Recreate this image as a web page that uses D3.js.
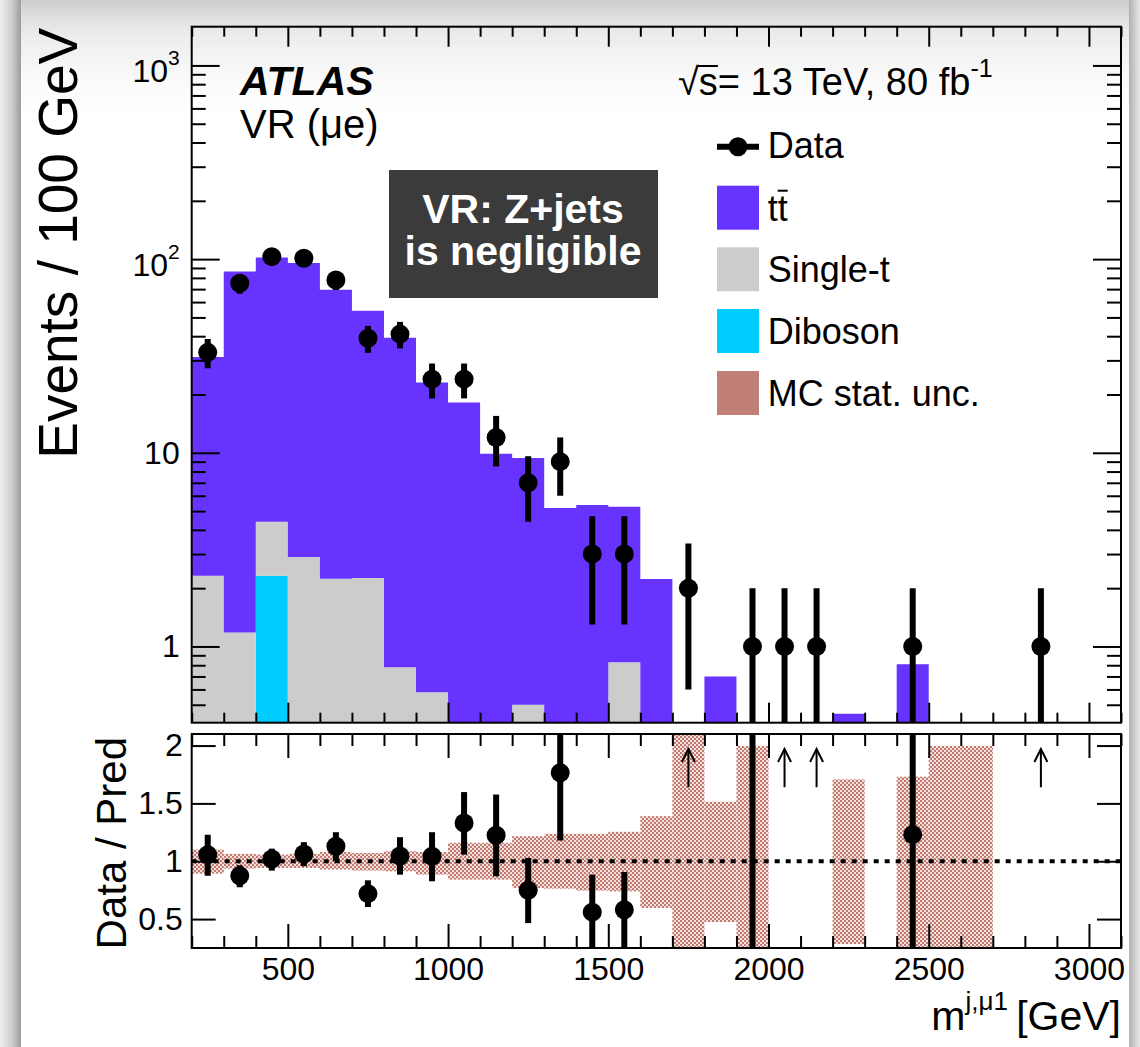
<!DOCTYPE html>
<html><head><meta charset="utf-8">
<script src="https://cdn.jsdelivr.net/npm/d3@7"></script>
<style>
body{margin:0;background:#fff}
svg{display:block}
text{font-family:"Liberation Sans",Arial,Helvetica,sans-serif}
</style>
</head><body>
<svg id="c" width="1140" height="1047"></svg>
<script>
// ---------------- data ----------------
const binLow = [200,300,400,500,600,700,800,900,1000,1100,1200,1300,1400,1500,1600,1700,1800,1900,2000,2100,2200,2300,2400,2500,2600,2700,2800,2900,3000];
const binWidth = 100;
const ttbar     = [28.9,85.2,97.6,92.5,67.3,51.8,38.5,22.5,18.2,9.88,8.89,5.18,5.37,4.43,2.23,0,0.70,0.30,0,0,0.45,0,0.81,0.15,0.15,0,0,0,0];
const singleTop = [2.32,1.18,2.08,2.90,2.24,2.26,0.78,0.58,0,0,0.50,0,0,0.83,0,0,0,0,0,0,0,0,0,0,0,0,0,0,0];
const diboson   = [0,0,2.32,0,0,0,0,0,0,0,0,0,0,0,0,0,0,0,0,0,0,0,0,0,0,0,0,0,0];
const dataCounts = [33,75,103,101,78,39,41,24,24,12,7,9,3,3,0,2,0,1,1,1,0,0,1,0,0,0,1,0,0];
const dataErr    = [5.7,8.7,10.1,10.0,8.8,6.2,6.4,4.9,4.9,3.5,2.6,3.0,1.7,1.7,0,1.4,0,1,1,1,0,0,1,0,0,0,1,0,0];
const ratio   = [1.057,0.875,1.02,1.063,1.13,0.72,1.046,1.043,1.33,1.225,0.75,1.765,0.56,0.58,null,null,null,4.0,null,null,null,null,1.23,null,null,null,null,null,null];
const ratioLo = [0.875,0.775,0.919,0.957,1.0,0.604,0.884,0.827,1.057,0.87,0.465,1.179,0.2,0.2,null,null,null,0.1,null,null,null,null,0.1,null,null,null,null,null,null];
const ratioHi = [1.23,0.965,1.109,1.165,1.251,0.835,1.208,1.251,1.598,1.577,1.029,2.35,0.884,0.907,null,null,null,8.0,null,null,null,null,4.0,null,null,null,null,null,null];
const ratioArrowBins = [1700,2000,2100,2800];
const mcUncLo = [0.893,0.936,0.942,0.942,0.928,0.919,0.913,0.884,0.841,0.841,0.769,0.763,0.746,0.74,0.596,0.1,0.474,0.1,null,null,0.284,null,0.1,0.1,0.1,null,null,null,null];
const mcUncHi = [1.101,1.064,1.058,1.064,1.081,1.072,1.087,1.081,1.159,1.159,1.217,1.237,1.237,1.254,1.39,2.5,1.514,1.997,null,null,1.708,null,1.731,1.997,1.997,null,null,null,null];
const xMajorTicks = [500,1000,1500,2000,2500,3000];
const yMainTicks = [1,10,100,1000];
const yRatioTicks = [0.5,1,1.5,2];
const legendLabels = ["Data","tt","Single-t","Diboson","MC stat. unc."];

// ---------------- geometry ----------------
const W = 1140, H = 1047;
const L = 191.7, R = 1121, T1 = 26.7, B1 = 722.7, T2 = 734, B2 = 948;
const COL = {tt:"#6633ff", st:"#cccccc", db:"#00ccff", mc:"#c08078"};
const FONT = '"Liberation Sans",Arial,Helvetica,sans-serif';

const svg = d3.select("#c");
const n = binLow.length;
const edges = binLow.concat([binLow[n-1] + binWidth]);

const x = d3.scaleLinear().domain([edges[0], edges[n]]).range([L, R]);
const yTop = d3.scaleLog().domain([0.404, 1585]).range([B1, T1]).clamp(true);
const yR = d3.scaleLinear().domain([0.25, 2.1]).range([B2, T2]);
const ySafe = v => yTop(Math.max(v, 1e-4));

// ---------------- defs ----------------
const defs = svg.append("defs");
defs.append("clipPath").attr("id","clipTop").append("rect")
  .attr("x",L).attr("y",T1).attr("width",R-L).attr("height",B1-T1);
defs.append("clipPath").attr("id","clipRat").append("rect")
  .attr("x",L).attr("y",T2).attr("width",R-L).attr("height",B2-T2);
const pat = defs.append("pattern").attr("id","hatch").attr("patternUnits","userSpaceOnUse")
  .attr("width",4).attr("height",4);
pat.append("rect").attr("x",0).attr("y",0).attr("width",4).attr("height",4).attr("fill","#f2e0dd");
pat.append("rect").attr("x",0).attr("y",0).attr("width",2).attr("height",2).attr("fill","#c27a70");
pat.append("rect").attr("x",2).attr("y",2).attr("width",2).attr("height",2).attr("fill","#c27a70");
const gL = defs.append("linearGradient").attr("id","shL").attr("x1",0).attr("x2",1).attr("y1",0).attr("y2",0);
gL.append("stop").attr("offset",0).attr("stop-color","#eeeeee");
gL.append("stop").attr("offset",0.55).attr("stop-color","#cfcfcf");
gL.append("stop").attr("offset",1).attr("stop-color","#9c9c9c");
const gR = defs.append("linearGradient").attr("id","shR").attr("x1",0).attr("x2",1).attr("y1",0).attr("y2",0);
gR.append("stop").attr("offset",0).attr("stop-color","#b0b0b0");
gR.append("stop").attr("offset",1).attr("stop-color","#e8e8e8");
const gT = defs.append("linearGradient").attr("id","shT").attr("x1",0).attr("x2",0).attr("y1",0).attr("y2",1);
gT.append("stop").attr("offset",0).attr("stop-color","#c8c8c8").attr("stop-opacity",0.9);
gT.append("stop").attr("offset",0.25).attr("stop-color","#dddddd").attr("stop-opacity",0.6);
gT.append("stop").attr("offset",1).attr("stop-color","#ffffff").attr("stop-opacity",0);

// ---------------- background ----------------
svg.append("rect").attr("width",W).attr("height",H).attr("fill","#fff");
svg.append("rect").attr("x",21).attr("y",0).attr("width",1108).attr("height",130).attr("fill","url(#shT)");
svg.append("rect").attr("x",0).attr("y",0).attr("width",21).attr("height",H).attr("fill","url(#shL)");
svg.append("rect").attr("x",1129).attr("y",0).attr("width",11).attr("height",H).attr("fill","url(#shR)");

// ---------------- top panel: stack ----------------
const gTop = svg.append("g").attr("clip-path","url(#clipTop)");
const layers = [{v:diboson,c:COL.db},{v:singleTop,c:COL.st},{v:ttbar,c:COL.tt}];
let base = new Array(n).fill(0);
const area = d3.area().curve(d3.curveStepAfter)
  .x((d,i)=>x(edges[i])).y0(d=>ySafe(d.lo)).y1(d=>ySafe(d.hi));
layers.forEach(layer=>{
  const top = base.map((b,i)=>b+layer.v[i]);
  const pts = edges.map((e,i)=>{const k=Math.min(i,n-1);return {lo:base[k],hi:top[k]};});
  gTop.append("path").attr("d",area(pts)).attr("fill",layer.c).attr("stroke","none");
  base = top;
});

// data points
const pts = binLow.map((b,i)=>({c:b+binWidth/2, v:dataCounts[i], e:dataErr[i]})).filter(d=>d.v>0);
gTop.selectAll("line.err").data(pts).join("line")
  .attr("x1",d=>x(d.c)).attr("x2",d=>x(d.c))
  .attr("y1",d=>ySafe(d.v+d.e)).attr("y2",d=>ySafe(d.v-d.e))
  .attr("stroke","#000").attr("stroke-width",6);
gTop.selectAll("circle").data(pts).join("circle")
  .attr("cx",d=>x(d.c)).attr("cy",d=>yTop(d.v)).attr("r",9.5).attr("fill","#000");

// ---------------- axes helpers ----------------
function styleAxis(g, size){
  g.select(".domain").remove();
  g.selectAll(".tick line").attr("stroke","#000").attr("stroke-width",2);
  g.attr("font-family",FONT).attr("font-size",size||32);
  g.selectAll(".tick text").attr("fill","#000");
}
const xMinor = x.ticks(29).filter(t=>xMajorTicks.indexOf(t)<0);
const yMinor = yTop.ticks().filter(t=>yMainTicks.indexOf(t)<0);

// top panel axes
svg.append("g").attr("transform",`translate(0,${B1})`)
  .call(d3.axisBottom(x).tickValues(xMajorTicks).tickSizeInner(-20).tickSizeOuter(0).tickFormat(""))
  .call(styleAxis);
svg.append("g").attr("transform",`translate(0,${B1})`)
  .call(d3.axisBottom(x).tickValues(xMinor).tickSizeInner(-10).tickSizeOuter(0).tickFormat(""))
  .call(styleAxis);
svg.append("g").attr("transform",`translate(0,${T1})`)
  .call(d3.axisTop(x).tickValues(xMajorTicks).tickSizeInner(-20).tickSizeOuter(0).tickFormat(""))
  .call(styleAxis);
svg.append("g").attr("transform",`translate(0,${T1})`)
  .call(d3.axisTop(x).tickValues(xMinor).tickSizeInner(-10).tickSizeOuter(0).tickFormat(""))
  .call(styleAxis);
const yAx = svg.append("g").attr("transform",`translate(${L},0)`)
  .call(d3.axisLeft(yTop).tickValues(yMainTicks).tickSizeInner(-28).tickSizeOuter(0).tickPadding(12)
    .tickFormat(d=> d>=100 ? "10" : String(d)))
  .call(styleAxis);
yAx.selectAll(".tick text").each(function(d){
  if(d>=100){
    const t = d3.select(this).attr("dy","0.5em");
    t.append("tspan").attr("dy",-17).attr("font-size",21).text(Math.round(Math.log10(d)));
  }
});
svg.append("g").attr("transform",`translate(${L},0)`)
  .call(d3.axisLeft(yTop).tickValues(yMinor).tickSizeInner(-14).tickSizeOuter(0).tickFormat(""))
  .call(styleAxis);
svg.append("g").attr("transform",`translate(${R},0)`)
  .call(d3.axisRight(yTop).tickValues(yMainTicks).tickSizeInner(-28).tickSizeOuter(0).tickFormat(""))
  .call(styleAxis);
svg.append("g").attr("transform",`translate(${R},0)`)
  .call(d3.axisRight(yTop).tickValues(yMinor).tickSizeInner(-14).tickSizeOuter(0).tickFormat(""))
  .call(styleAxis);
svg.append("rect").attr("x",L).attr("y",T1).attr("width",R-L).attr("height",B1-T1)
  .attr("fill","none").attr("stroke","#000").attr("stroke-width",2);

// ---------------- ratio panel ----------------
const gRat = svg.append("g").attr("clip-path","url(#clipRat)");
const bands = binLow.map((b,i)=>({b, lo:mcUncLo[i], hi:mcUncHi[i]})).filter(d=>d.lo!==null);
gRat.selectAll("rect.band").data(bands).join("rect")
  .attr("x",d=>x(d.b)).attr("width",d=>x(d.b+binWidth)-x(d.b))
  .attr("y",d=>yR(d.hi)).attr("height",d=>yR(d.lo)-yR(d.hi))
  .attr("fill","url(#hatch)");
gRat.append("line").attr("x1",L).attr("x2",R).attr("y1",yR(1)).attr("y2",yR(1))
  .attr("stroke","#000").attr("stroke-width",4).attr("stroke-dasharray","5,6");
const rpts = binLow.map((b,i)=>({c:b+binWidth/2, r:ratio[i], lo:ratioLo[i], hi:ratioHi[i]})).filter(d=>d.r!==null);
gRat.selectAll("line.rerr").data(rpts).join("line")
  .attr("x1",d=>x(d.c)).attr("x2",d=>x(d.c))
  .attr("y1",d=>yR(d.hi)).attr("y2",d=>yR(d.lo))
  .attr("stroke","#000").attr("stroke-width",6);
gRat.selectAll("circle").data(rpts).join("circle")
  .attr("cx",d=>x(d.c)).attr("cy",d=>yR(d.r)).attr("r",9.5).attr("fill","#000");
// arrows for off-scale points
ratioArrowBins.forEach(b=>{
  const cx = x(b+binWidth/2), yTip = yR(1.97), yBot = yR(1.64);
  gRat.append("line").attr("x1",cx).attr("x2",cx).attr("y1",yBot).attr("y2",yTip)
    .attr("stroke","#000").attr("stroke-width",2);
  gRat.append("polyline").attr("points",`${cx-6.5},${yTip+13} ${cx},${yTip} ${cx+6.5},${yTip+13}`)
    .attr("fill","none").attr("stroke","#000").attr("stroke-width",2);
});

// ratio axes
svg.append("g").attr("transform",`translate(0,${B2})`)
  .call(d3.axisBottom(x).tickValues(xMajorTicks).tickSizeInner(-24).tickSizeOuter(0).tickPadding(9).tickFormat(d3.format("d")))
  .call(styleAxis);
svg.append("g").attr("transform",`translate(0,${B2})`)
  .call(d3.axisBottom(x).tickValues(xMinor).tickSizeInner(-12).tickSizeOuter(0).tickFormat(""))
  .call(styleAxis);
svg.append("g").attr("transform",`translate(0,${T2})`)
  .call(d3.axisTop(x).tickValues(xMajorTicks).tickSizeInner(-24).tickSizeOuter(0).tickFormat(""))
  .call(styleAxis);
svg.append("g").attr("transform",`translate(0,${T2})`)
  .call(d3.axisTop(x).tickValues(xMinor).tickSizeInner(-12).tickSizeOuter(0).tickFormat(""))
  .call(styleAxis);
svg.append("g").attr("transform",`translate(${L},0)`)
  .call(d3.axisLeft(yR).tickValues(yRatioTicks).tickSizeInner(-24).tickSizeOuter(0).tickPadding(9).tickFormat(d=>String(d)))
  .call(styleAxis);
svg.append("g").attr("transform",`translate(${R},0)`)
  .call(d3.axisRight(yR).tickValues(yRatioTicks).tickSizeInner(-24).tickSizeOuter(0).tickFormat(""))
  .call(styleAxis);
svg.append("rect").attr("x",L).attr("y",T2).attr("width",R-L).attr("height",B2-T2)
  .attr("fill","none").attr("stroke","#000").attr("stroke-width",2);

// ---------------- titles ----------------
svg.append("text").attr("transform",`translate(77,${T1+1}) rotate(-90)`)
  .attr("text-anchor","end").attr("font-size",55).text("Events / 100 GeV");
svg.append("text").attr("transform",`translate(126,${T2+3}) rotate(-90)`)
  .attr("text-anchor","end").attr("font-size",42).text("Data / Pred");
const xt = svg.append("text").attr("x",R).attr("y",1030).attr("text-anchor","end").attr("font-size",41);
xt.append("tspan").text("m");
xt.append("tspan").attr("dy",-20).attr("font-size",26).text("j,\u03bc1");
xt.append("tspan").attr("dy",20).text("\u2009[GeV]");

// ATLAS labels
svg.append("text").attr("x",240).attr("y",95).attr("font-size",41)
  .attr("font-weight","bold").attr("font-style","italic").text("ATLAS");
svg.append("text").attr("x",240).attr("y",138).attr("font-size",40).text("VR (\u03bce)");

// sqrt(s) label
const sq = svg.append("text").attr("x",678).attr("y",95).attr("font-size",38);
sq.append("tspan").text("\u221a");
sq.append("tspan").text("s");
sq.append("tspan").text("= 13 TeV, 80 fb");
sq.append("tspan").attr("dy",-18).attr("font-size",25).text("-1");
{
  const node = sq.node();
  const w0 = node.getSubStringLength(0,1), w1 = node.getSubStringLength(1,1);
  svg.append("line").attr("x1",678+w0-1).attr("x2",678+w0+w1).attr("y1",95-29).attr("y2",95-29)
    .attr("stroke","#000").attr("stroke-width",2);
}

// annotation box
svg.append("rect").attr("x",389).attr("y",170).attr("width",269).attr("height",128).attr("fill","#3b3b3b");
const ann = svg.append("text").attr("x",523).attr("y",223).attr("text-anchor","middle").attr("font-size",41)
  .attr("font-weight","bold").attr("fill","#fff");
ann.append("tspan").attr("x",523).attr("y",223).text("VR: Z+jets");
ann.append("tspan").attr("x",523).attr("y",265).text("is negligible");

// ---------------- legend ----------------
const lg = svg.append("g");
const lx = 717, lw = 42, textX = 767.7;
const rowY = [146.7, 185.7, 247.3, 309, 371];
// data entry
lg.append("line").attr("x1",lx).attr("x2",lx+lw).attr("y1",rowY[0]).attr("y2",rowY[0]).attr("stroke","#000").attr("stroke-width",6);
lg.append("circle").attr("cx",lx+lw/2).attr("cy",rowY[0]).attr("r",9.5).attr("fill","#000");
lg.append("text").attr("x",textX).attr("y",rowY[0]+11.6).attr("font-size",36).text(legendLabels[0]);
const boxCols = [COL.tt, COL.st, COL.db, COL.mc];
boxCols.forEach((c,k)=>{
  const y0 = rowY[k+1];
  lg.append("rect").attr("x",lx).attr("y",y0).attr("width",lw).attr("height",44).attr("fill",c);
  const t = lg.append("text").attr("x",textX).attr("y",y0+35).attr("font-size",36).text(legendLabels[k+1]);
  if(k===0){
    const node = t.node();
    const a = node.getSubStringLength(0,1), b = node.getSubStringLength(1,1);
    lg.append("line").attr("x1",textX+a).attr("x2",textX+a+b).attr("y1",y0+35-30).attr("y2",y0+35-30)
      .attr("stroke","#000").attr("stroke-width",2);
  }
});
</script>
</body></html>
